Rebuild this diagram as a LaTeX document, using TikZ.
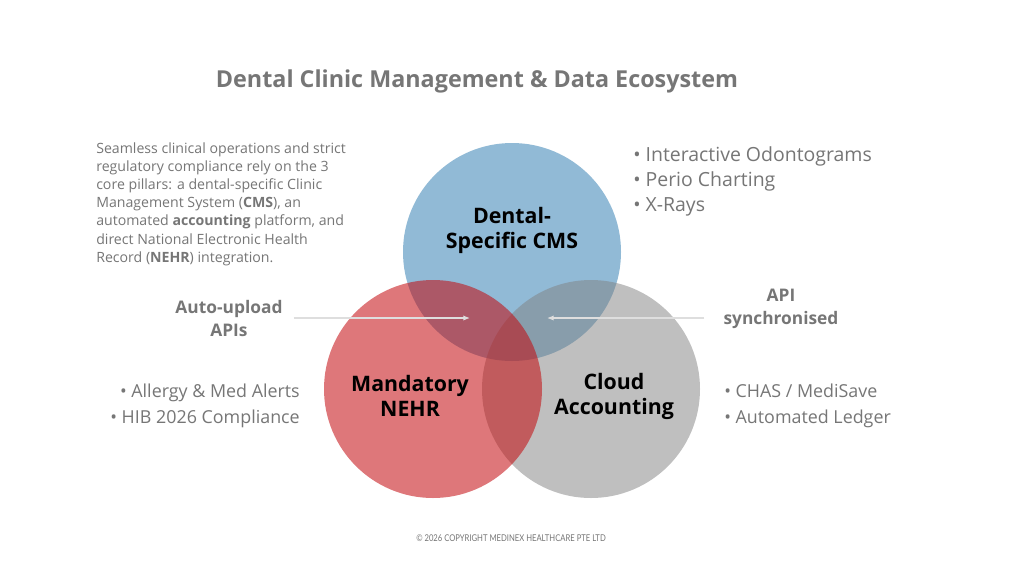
\documentclass[tikz,border=0pt]{standalone}
\usepackage{fontspec}
\setmainfont{Open Sans}
\newfontfamily\copyfont[FakeStretch=0.82]{Lato}
\usetikzlibrary{arrows.meta}
\definecolor{cms-blue}{RGB}{145,186,214}
\definecolor{nehr-red}{RGB}{195,9,13}
\definecolor{acct-grey}{RGB}{129,129,129}
\definecolor{text-grey}{RGB}{118,118,118}
\definecolor{arrow-grey}{RGB}{222,222,222}

\begin{document}
\begin{tikzpicture}[x=0.75pt, y=-0.75pt,
    pillar/.style={circle, inner sep=0pt, minimum size=163.5pt},
    pillarlabel/.style={font=\bfseries\fontsize{16}{18.75}\selectfont, align=center, text=black},
    bulletlist/.style={font=\fontsize{13.4}{19.5}\selectfont, text=text-grey},
    linklabel/.style={font=\bfseries\fontsize{13}{17.25}\selectfont, text=text-grey, align=center},
    linkarrow/.style={-{Latex[length=5pt, width=4pt]}, draw=arrow-grey, line width=0.9pt}]
    % Canvas: 1024 x 576 px, origin top left, y grows down
    %   circles r=109px: CMS (512,252), NEHR (433,389), accounting (591,389)
    \useasboundingbox[fill=white] (0,0) rectangle (1024,576);

    \node[font=\bfseries\fontsize{17.5}{20}\selectfont, text=text-grey] (title) at (477,81)
      {Dental Clinic Management \& Data Ecosystem};

    % the three pillars (blue under, grey and red see-through on top)
    \node[pillar, fill=cms-blue] (cms) at (512,252) {};
    \node[pillar, fill=acct-grey, fill opacity=0.5] (acct) at (591,389) {};
    \node[pillar, fill=nehr-red, fill opacity=0.55] (nehr) at (433,389) {};

    \node[pillarlabel] (cmslabel) at (512,230) {Dental-\\Specific CMS};
    \node[pillarlabel] (nehrlabel) at (410,396) {Mandatory\\NEHR};
    \node[pillarlabel] (acctlabel) at (614,396) {Cloud\\Accounting};

    % intro text, top left
    \node[anchor=west, align=left, inner sep=0pt, text=text-grey,
          font=\fontsize{10.6}{13.65}\selectfont] (intro) at (96,204)
      {Seamless clinical operations and strict\\
       regulatory compliance rely on the 3\\
       core pillars: a dental-specific Clinic\\
       Management System (\textbf{CMS}), an\\
       automated \textbf{accounting} platform, and\\
       direct National Electronic Health\\
       Record (\textbf{NEHR}) integration.};

    % feature lists
    \node[bulletlist, anchor=west, align=left, inner sep=0pt,
          font=\fontsize{14.6}{18.75}\selectfont] (cmslist) at (633,181)
      {• Interactive Odontograms\\• Perio Charting\\• X-Rays};
    \node[bulletlist, anchor=east, align=right, inner sep=0pt] (nehrlist) at (300,406)
      {• Allergy \& Med Alerts\\• HIB 2026 Compliance};
    \node[bulletlist, anchor=west, align=left, inner sep=0pt] (acctlist) at (724,406)
      {• CHAS / MediSave\\• Automated Ledger};

    % links into the overlaps
    \node[linklabel] (upload) at (229,318) {Auto-upload\\APIs};
    \node[linklabel] (sync) at (781,309) {API\\synchronised};
    \coordinate (nehrin) at (470,318);
    \coordinate (cmsin) at (547,318);
    \draw[linkarrow] ([xshift=5pt]upload.east) -- (nehrin);
    \draw[linkarrow] ([xshift=-11pt]sync.west |- cmsin) -- (cmsin);

    \node[font=\copyfont\fontsize{7}{9}\selectfont, text=text-grey] (copyright) at (511,538)
      {© 2026 COPYRIGHT MEDINEX HEALTHCARE PTE LTD};
\end{tikzpicture}
\end{document}
